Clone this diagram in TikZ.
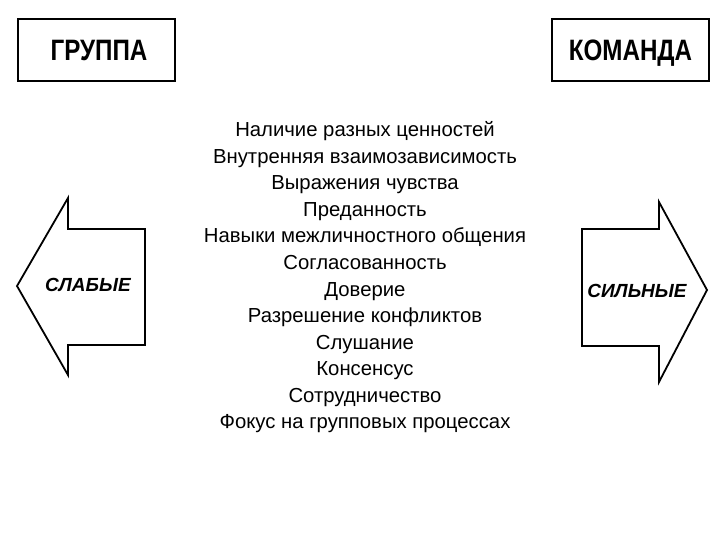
\documentclass[tikz,border=0pt]{standalone}
\usepackage{fontspec}
\setmainfont{Liberation Sans}
\newfontfamily\headfont[FakeStretch=0.82]{Liberation Sans}
\newfontfamily\listfont{Liberation Sans}
\begin{document}
\begin{tikzpicture}[x=1pt,y=-1pt,
  hdrbox/.style={draw=black,line width=2.5pt,minimum width=157pt,minimum height=62pt,inner sep=0pt,text height=21pt,text depth=0pt,font=\headfont\bfseries\fontsize{29.5}{32}\selectfont},
  arrowshape/.style={draw=black,line width=1.8pt,line join=miter},
  arrlabel/.style={font=\listfont\bfseries\itshape\fontsize{19}{22}\selectfont,inner sep=0pt,text height=14pt,text depth=0pt},
  listitem/.style={font=\listfont\fontsize{20.3}{24}\selectfont,anchor=base,inner sep=0pt}]
\useasboundingbox (0,0) rectangle (720,540);
\node[hdrbox] (grp) at (96.5,50) {\hspace{5pt}ГРУППА};
\node[hdrbox] (team) at (630.5,50) {КОМАНДА};
\draw[arrowshape] (17,286) -- (68,198) -- (68,229) -- (145,229) -- (145,345) -- (68,345) -- (68,375) -- cycle;
\draw[arrowshape] (582,229) -- (659,229) -- (659,202) -- (707,290) -- (659,382) -- (659,346) -- (582,346) -- cycle;
\node[arrlabel] (weak) at (88,284) {СЛАБЫЕ};
\node[arrlabel] (strong) at (637,290) {СИЛЬНЫЕ};
\node[listitem] (l1) at (365,137) {Наличие разных ценностей};
\node[listitem] (l2) at (365,163.5) {Внутренняя взаимозависимость};
\node[listitem] (l3) at (365,190) {Выражения чувства};
\node[listitem] (l4) at (365,216.5) {Преданность};
\node[listitem] (l5) at (365,243) {Навыки межличностного общения};
\node[listitem] (l6) at (365,269.5) {Согласованность};
\node[listitem] (l7) at (365,296) {Доверие};
\node[listitem] (l8) at (365,322.5) {Разрешение конфликтов};
\node[listitem] (l9) at (365,349) {Слушание};
\node[listitem] (l10) at (365,375.5) {Консенсус};
\node[listitem] (l11) at (365,402) {Сотрудничество};
\node[listitem] (l12) at (365,428.5) {Фокус на групповых процессах};
\end{tikzpicture}
\end{document}
